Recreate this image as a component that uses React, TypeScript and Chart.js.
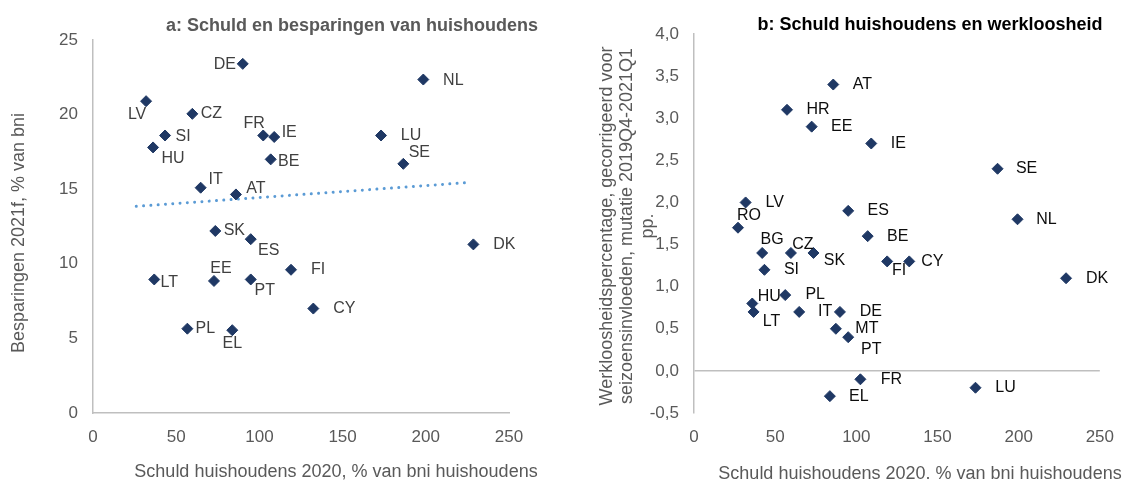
import { useEffect, useRef } from 'react';
import { Chart, registerables } from 'chart.js';

Chart.register(...registerables);

const FONT = "'Liberation Sans', Arial, sans-serif";

// ---------- Panel a: debt vs savings ----------
const countriesA = ['DE', 'LV', 'CZ', 'SI', 'HU', 'FR', 'IE', 'BE', 'NL', 'LU', 'SE', 'IT', 'AT', 'SK', 'ES', 'DK', 'FI', 'EE', 'LT', 'PT', 'CY', 'PL', 'EL'];
const debtA = [90.0, 31.9, 59.7, 43.3, 36.1, 102.3, 108.9, 106.8, 198.5, 173.1, 186.5, 64.7, 85.9, 73.5, 94.8, 228.6, 119.0, 72.7, 36.8, 94.8, 132.4, 56.7, 83.7];
const savingsA = [23.4, 20.9, 20.05, 18.6, 17.8, 18.6, 18.5, 17.0, 22.35, 18.6, 16.7, 15.1, 14.65, 12.2, 11.65, 11.3, 9.6, 8.85, 8.95, 8.95, 7.0, 5.65, 5.55];
const trendDebtA = [26, 226];
const trendSavingsA = [13.85, 15.45];

// ---------- Panel b: debt vs unemployment change ----------
const countriesB = ['AT', 'HR', 'EE', 'IE', 'SE', 'LV', 'RO', 'ES', 'NL', 'BE', 'BG', 'CZ', 'SK', 'FI', 'CY', 'SI', 'DK', 'HU', 'PL', 'LT', 'IT', 'DE', 'MT', 'PT', 'FR', 'EL', 'LU'];
const debtB = [85.8, 57.3, 72.5, 109.2, 187.0, 31.8, 27.1, 95.0, 199.3, 107.0, 42.0, 59.7, 73.6, 119.0, 132.6, 43.4, 229.2, 35.9, 56.2, 36.7, 64.8, 89.9, 87.4, 95.0, 102.5, 83.7, 173.4];
const unemploymentB = [3.4, 3.1, 2.9, 2.7, 2.4, 2.0, 1.7, 1.9, 1.8, 1.6, 1.4, 1.4, 1.4, 1.3, 1.3, 1.2, 1.1, 0.8, 0.9, 0.7, 0.7, 0.7, 0.5, 0.4, -0.1, -0.3, -0.2];

// ---------- Ticks ----------
const xTicks = [0, 50, 100, 150, 200, 250];
const yTicksA = [0, 5, 10, 15, 20, 25];
const yTicksB = [-0.5, 0, 0.5, 1, 1.5, 2, 2.5, 3, 3.5, 4];

// ---------- Texts ----------
const titleA = 'a: Schuld en besparingen van huishoudens';
const xTitleA = 'Schuld huishoudens 2020, % van bni huishoudens';
const yTitleA = ['Besparingen 2021f, % van bni'];
const titleB = 'b: Schuld huishoudens en werkloosheid';
const xTitleB = 'Schuld huishoudens 2020. % van bni huishoudens';
const yTitleB = ['Werkloosheidspercentage, gecorrigeerd voor', 'seizoensinvloeden, mutatie 2019Q4-2021Q1', 'pp.'];

// label placement (pixel offsets from marker)
const labelOffsetsA: Record<string, [number, number]> = {
  DE: [-18, 1], LV: [-9, 13], CZ: [19, 0], SI: [18, 1], HU: [20, 11], FR: [-9, -12], IE: [15, -4],
  BE: [18, 2], NL: [30, 1], LU: [30, 0], SE: [16, -11], IT: [15, -8], AT: [20, -6], SK: [19, 0],
  ES: [18, 11], DK: [31, 0], FI: [27, 0], EE: [7, -12], LT: [15, 3], PT: [14, 11], CY: [31, 0],
  PL: [18, 0], EL: [0, 13],
};
const labelOffsetsB: Record<string, [number, number]> = {
  AT: [29, 0], HR: [31, 0], EE: [30, 0], IE: [27, 0], SE: [29, 0], LV: [29, 0], RO: [11, -12],
  ES: [30, 0], NL: [29, 0], BE: [30, 0], BG: [10, -13], CZ: [12, -8], SK: [21, 8], FI: [12, 9],
  CY: [23, 0], SI: [27, 0], DK: [31, 0], HU: [17, -7], PL: [30, 0], LT: [18, 10], IT: [26, 0],
  DE: [31, 0], MT: [31, 0], PT: [23, 12], FR: [31, 0], EL: [29, 0], LU: [30, 0],
};

const MARKER = '#1f3864';
const AXIS = '#bfbfbf';
const TICK = '#595959';

const pointLabels = {
  id: 'pointLabels',
  afterDatasetsDraw(chart: any, _args: any, o: any) {
    const { ctx } = chart;
    const meta = chart.getDatasetMeta(0);
    ctx.save();
    ctx.font = `16px ${FONT}`;
    ctx.fillStyle = o.color;
    ctx.textAlign = 'center';
    ctx.textBaseline = 'middle';
    meta.data.forEach((el: any, i: number) => {
      const code = o.labels[i];
      const [dx, dy] = o.offsets[code] || [20, 0];
      ctx.fillText(code, el.x + dx, el.y + dy);
    });
    ctx.restore();
  },
};

const titles = {
  id: 'titles',
  afterDraw(chart: any, _args: any, o: any) {
    const { ctx, chartArea } = chart;
    ctx.save();
    ctx.textAlign = 'center';
    ctx.textBaseline = 'middle';
    ctx.font = `bold 18px ${FONT}`;
    ctx.fillStyle = o.titleColor;
    ctx.fillText(o.title, chartArea.left + o.titleDx, o.titleY);
    ctx.font = `18px ${FONT}`;
    ctx.fillStyle = TICK;
    ctx.fillText(o.xTitle, chartArea.left + o.xTitleDx, o.xTitleY);
    ctx.translate(o.yTitleX, o.yTitleY);
    ctx.rotate(-Math.PI / 2);
    o.yTitle.forEach((line: string, k: number) => ctx.fillText(line, 0, k * o.yLineGap));
    ctx.restore();
  },
};

function fixedTicks(values: number[]) {
  return (s: any) => {
    s.ticks = values.map((v) => ({ value: v }));
  };
}

function makeA(canvas: HTMLCanvasElement) {
  return new Chart(canvas, {
    type: 'scatter',
    data: {
      datasets: [
        {
          data: debtA.map((x, i) => ({ x, y: savingsA[i] })),
          pointStyle: 'rectRot',
          pointRadius: 5.5,
          pointBorderWidth: 1,
          backgroundColor: MARKER,
          borderColor: MARKER,
          order: 0,
        },
        {
          data: trendDebtA.map((x, i) => ({ x, y: trendSavingsA[i] })),
          showLine: true,
          pointRadius: 0,
          borderColor: '#5b9bd5',
          borderWidth: 3,
          borderDash: [0.01, 7.3],
          borderCapStyle: 'round',
          order: 1,
        } as any,
      ],
    },
    options: {
      responsive: false,
      animation: false,
      layout: { padding: { left: 50, right: 56, top: 40, bottom: 41 } },
      plugins: {
        legend: { display: false },
        tooltip: { enabled: false },
        pointLabels: { labels: countriesA, offsets: labelOffsetsA, color: '#404040' },
        titles: {
          title: titleA, titleColor: '#595959', titleDx: 259, titleY: 26,
          xTitle: xTitleA, xTitleDx: 243, xTitleY: 472,
          yTitle: yTitleA, yTitleX: 19, yTitleY: 233, yLineGap: 21,
        },
      } as any,
      scales: {
        x: {
          type: 'linear', min: 0, max: 250,
          afterBuildTicks: fixedTicks(xTicks),
          afterFit: (s: any) => { s.height = 30; },
          grid: { color: 'rgba(0,0,0,0)', drawTicks: false },
          border: { display: true, color: AXIS, width: 1.5 },
          ticks: { color: TICK, font: { size: 17, family: FONT }, padding: 14, maxRotation: 0 },
        },
        y: {
          type: 'linear', min: 0, max: 25,
          afterBuildTicks: fixedTicks(yTicksA),
          afterFit: (s: any) => { s.width = 43; },
          grid: { color: 'rgba(0,0,0,0)', drawTicks: false },
          border: { display: true, color: AXIS, width: 1.5 },
          ticks: { color: TICK, font: { size: 17, family: FONT }, padding: 15 },
        },
      },
    },
    plugins: [pointLabels, titles],
  });
}

function makeB(canvas: HTMLCanvasElement) {
  return new Chart(canvas, {
    type: 'scatter',
    data: {
      datasets: [
        {
          data: debtB.map((x, i) => ({ x, y: unemploymentB[i] })),
          pointStyle: 'rectRot',
          pointRadius: 5.5,
          pointBorderWidth: 1,
          backgroundColor: MARKER,
          borderColor: MARKER,
        },
      ],
    },
    options: {
      responsive: false,
      animation: false,
      layout: { padding: { left: 80, right: 25, top: 34, bottom: 41 } },
      plugins: {
        legend: { display: false },
        tooltip: { enabled: false },
        pointLabels: { labels: countriesB, offsets: labelOffsetsB, color: '#0d0d0d' },
        titles: {
          title: titleB, titleColor: '#000000', titleDx: 236, titleY: 25,
          xTitle: xTitleB, xTitleDx: 226, xTitleY: 474,
          yTitle: yTitleB, yTitleX: 42, yTitleY: 226, yLineGap: 20.5,
        },
      } as any,
      scales: {
        x: {
          type: 'linear', min: 0, max: 250,
          afterBuildTicks: fixedTicks(xTicks),
          afterFit: (s: any) => { s.height = 30; },
          grid: { color: 'rgba(0,0,0,0)', drawTicks: false },
          border: { display: false },
          ticks: { color: TICK, font: { size: 17, family: FONT }, padding: 14, maxRotation: 0 },
        },
        y: {
          type: 'linear', min: -0.5, max: 4,
          afterBuildTicks: fixedTicks(yTicksB),
          afterFit: (s: any) => { s.width = 49; },
          grid: {
            drawTicks: false,
            lineWidth: 1.5,
            color: (c: any) => (c.tick && c.tick.value === 0 ? AXIS : 'rgba(0,0,0,0)'),
          },
          border: { display: true, color: AXIS, width: 1.5 },
          ticks: {
            color: TICK,
            font: { size: 17, family: FONT },
            padding: 15,
            callback: (v: any) => Number(v).toFixed(1).replace('.', ','),
          },
        },
      },
    },
    plugins: [pointLabels, titles],
  });
}

export default function App() {
  const refA = useRef<HTMLCanvasElement>(null);
  const refB = useRef<HTMLCanvasElement>(null);
  useEffect(() => {
    const a = makeA(refA.current!);
    const b = makeB(refB.current!);
    return () => {
      a.destroy();
      b.destroy();
    };
  }, []);
  return (
    <div style={{ position: 'absolute', left: 0, top: 0, width: 1128, height: 484, background: '#fff' }}>
      <canvas ref={refA} width={565} height={484} style={{ position: 'absolute', left: 0, top: 0 }} />
      <canvas ref={refB} width={563} height={484} style={{ position: 'absolute', left: 565, top: 0 }} />
    </div>
  );
}
